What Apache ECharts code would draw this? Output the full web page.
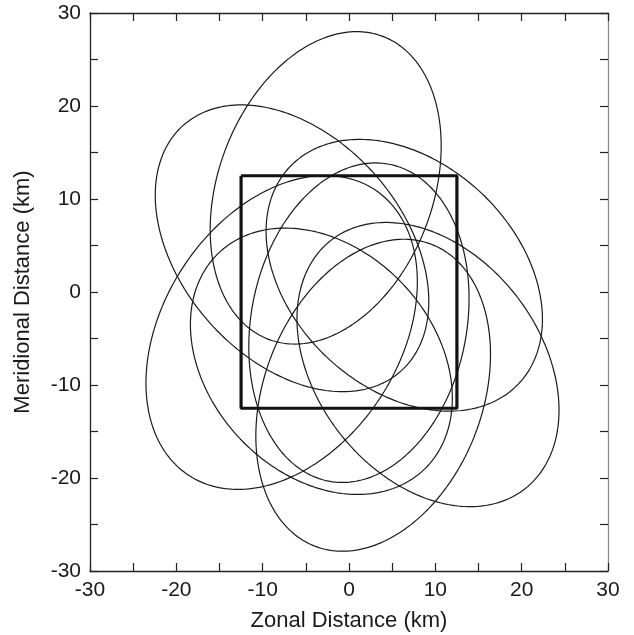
<!DOCTYPE html>
<html>
<head>
<meta charset="utf-8">
<script src="https://cdn.jsdelivr.net/npm/echarts@6/dist/echarts.min.js"></script>
<style>
html, body { margin: 0; padding: 0; background: #fff; }
#main { width: 634px; height: 635px; }
</style>
</head>
<body>
<div id="main"></div>
<script>
// footprint ellipses (km): centre, semi-axes, tilt (deg)
var ellipseCx    = [-2.7,  2.8,  -6.6,  6.4,   9.15, -7.8,   1.15, -3.2];
var ellipseCy    = [11.2, -11.1,  4.7,  1.8,  -7.8,  -4.35, -3.3,  -7.45];
var ellipseA     = [17.6,  17.6, 18.3, 17.7,  17.5,  18.8,  17.4,  16.7];
var ellipseB     = [12.3,  12.5, 12.4, 12.5,  12.55, 13.35, 12.45, 12.5];
var ellipseAngle = [65.3,  64.5, -42.9, -37.1, -45.6, 51.2,  76.8,  -39.1];

// the 25 km box
var boxX = [-12.5, 12.5, 12.5, -12.5, -12.5];
var boxY = [12.5, 12.5, -12.5, -12.5, 12.5];

var axisMin = -30, axisMax = 30, tickStep = 5, labelStep = 10;

var chart = echarts.init(document.getElementById('main'));

function ellipsePoints(i) {
	var pts = [];
	var th = ellipseAngle[i] * Math.PI / 180;
	var c = Math.cos(th), s = Math.sin(th);
	for (var k = 0; k <= 240; k++) {
		var t = 2 * Math.PI * k / 240;
		var u = ellipseA[i] * Math.cos(t), v = ellipseB[i] * Math.sin(t);
		pts.push([ellipseCx[i] + u * c - v * s, ellipseCy[i] + u * s + v * c]);
	}
	return pts;
}

var series = [];
for (var i = 0; i < ellipseCx.length; i++) {
	series.push({
		type: 'line',
		data: ellipsePoints(i),
		showSymbol: false,
		silent: true,
		lineStyle: { color: '#1a1a1a', width: 1.2 }
	});
}
series.push({
	type: 'line',
	data: boxX.map(function (x, k) { return [x, boxY[k]]; }),
	showSymbol: false,
	silent: true,
	lineStyle: { color: '#111', width: 3.2 }
});

var fontFamily = '"Liberation Sans", Arial, sans-serif';

function axisBase(pos, showLabel, lineColor) {
	return {
		type: 'value',
		position: pos,
		min: axisMin,
		max: axisMax,
		interval: tickStep,
		splitLine: { show: false },
		axisLine: { show: true, onZero: false, lineStyle: { color: lineColor, width: 1.3 } },
		axisTick: { show: true, inside: true, length: 8, lineStyle: { color: '#222', width: 1.2 } },
		axisLabel: {
			show: showLabel,
			margin: 9,
			color: '#1a1a1a',
			fontSize: 21,
			fontFamily: fontFamily,
			formatter: function (v) { return v % labelStep === 0 ? String(v) : ''; }
		}
	};
}

var xBottom = axisBase('bottom', true, '#222');
xBottom.name = 'Zonal Distance (km)';
xBottom.nameLocation = 'middle';
xBottom.nameGap = 39;
xBottom.nameTextStyle = { color: '#1a1a1a', fontSize: 22, fontFamily: fontFamily };

var yLeft = axisBase('left', true, '#222');
yLeft.name = 'Meridional Distance (km)';
yLeft.nameLocation = 'middle';
yLeft.nameGap = 56;
yLeft.nameTextStyle = { color: '#1a1a1a', fontSize: 22, fontFamily: fontFamily };

var option = {
	animation: false,
	backgroundColor: '#fff',
	grid: { left: 90, right: 26, top: 13, bottom: 64, containLabel: false, outerBoundsMode: 'none' },
	xAxis: [xBottom, axisBase('top', false, '#222')],
	yAxis: [yLeft, axisBase('right', false, '#888')],
	series: series
};
chart.setOption(option);
</script>
</body>
</html>
